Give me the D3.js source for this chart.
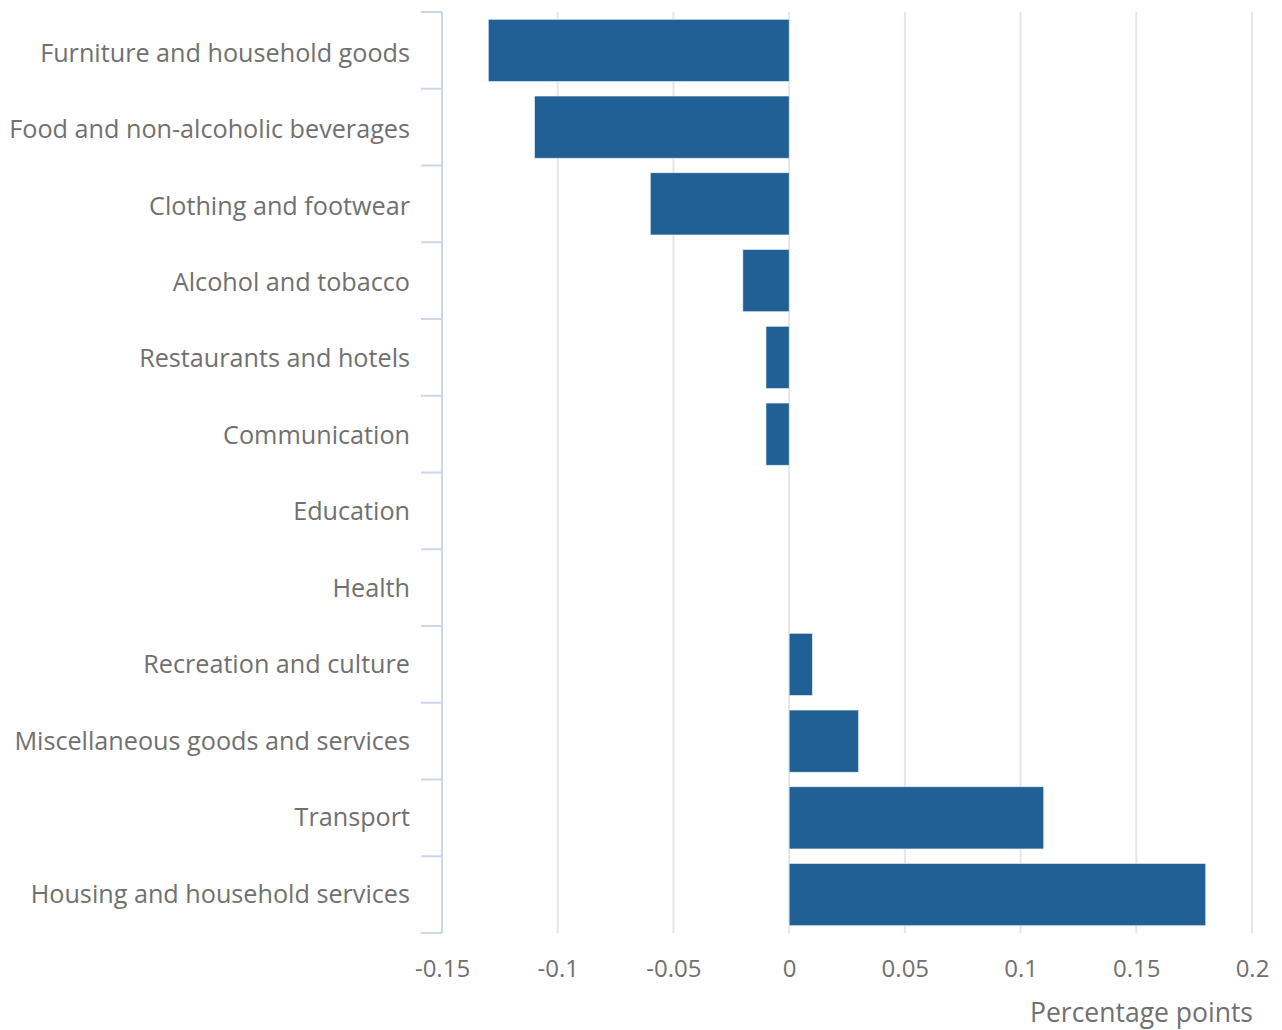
<!DOCTYPE html>
<html>
<head>
<meta charset="utf-8">
<script src="https://cdn.jsdelivr.net/npm/d3@7"></script>
<style>
  body { margin: 0; background: #fff; }
  text { font-family: "Open Sans", sans-serif; fill: #707070; }
</style>
</head>
<body>
<div id="chart"></div>
<script>
// Contribution to change, by category
const categories = [
  "Furniture and household goods",
  "Food and non-alcoholic beverages",
  "Clothing and footwear",
  "Alcohol and tobacco",
  "Restaurants and hotels",
  "Communication",
  "Education",
  "Health",
  "Recreation and culture",
  "Miscellaneous goods and services",
  "Transport",
  "Housing and household services"
];
const values = [-0.13, -0.11, -0.06, -0.02, -0.01, -0.01, 0, 0, 0.01, 0.03, 0.11, 0.18];
const xTicks = [-0.15, -0.1, -0.05, 0, 0.05, 0.1, 0.15, 0.2];

const W = 1282, H = 1030;
const margin = { top: 12, right: 30, bottom: 97, left: 442 };
const width = W - margin.left - margin.right;
const height = H - margin.top - margin.bottom;

const svg = d3.select("#chart")
    .append("svg")
    .attr("width", W)
    .attr("height", H)
    .append("g")
    .attr("transform", `translate(${margin.left},${margin.top})`);

const x = d3.scaleLinear()
    .domain([-0.15, 0.2])
    .range([0, width]);

const y = d3.scaleBand()
    .domain(categories)
    .range([0, height])
    .paddingInner(0.19)
    .paddingOuter(0.095);

// gridlines
svg.append("g")
    .selectAll("line")
    .data(xTicks.slice(1))
    .join("line")
    .attr("x1", d => x(d))
    .attr("x2", d => x(d))
    .attr("y1", 0)
    .attr("y2", height)
    .attr("stroke", "#e6e6e6")
    .attr("stroke-width", 2);

// bars
svg.selectAll("rect.bar")
    .data(values)
    .join("rect")
    .attr("class", "bar")
    .attr("x", d => x(Math.min(0, d)))
    .attr("y", (d, i) => y(categories[i]))
    .attr("width", d => Math.abs(x(d) - x(0)))
    .attr("height", y.bandwidth())
    .attr("fill", "#206095")
    .attr("stroke", "#e8eef4")
    .attr("stroke-width", 0.6);

// x axis labels
const xAxis = d3.axisBottom(x)
    .tickValues(xTicks)
    .tickSize(0)
    .tickPadding(27)
    .tickFormat(d => String(d));

const gx = svg.append("g")
    .attr("transform", `translate(0,${height})`)
    .call(xAxis);
gx.select(".domain").remove();
gx.selectAll("text")
    .style("font-size", "24px")
    .attr("fill", "#707070");

// y axis with boundary ticks
const boundaries = d3.range(categories.length + 1).map(i => i * height / categories.length);

const gy = svg.append("g");
gy.append("line")
    .attr("x1", 0).attr("x2", 0)
    .attr("y1", 0).attr("y2", height)
    .attr("stroke", "#ccd6eb")
    .attr("stroke-width", 2);
gy.selectAll("line.tick")
    .data(boundaries)
    .join("line")
    .attr("class", "tick")
    .attr("x1", -21).attr("x2", 0)
    .attr("y1", d => d).attr("y2", d => d)
    .attr("stroke", "#ccd6eb")
    .attr("stroke-width", 2);
gy.selectAll("text")
    .data(categories)
    .join("text")
    .attr("x", -32)
    .attr("y", (d, i) => y(d) + y.bandwidth() / 2 + 2.5 - i * 0.3)
    .attr("dy", "0.35em")
    .attr("text-anchor", "end")
    .style("font-size", "25.2px")
    .text(d => d);

// axis title
svg.append("text")
    .attr("x", width + 1)
    .attr("y", height + 89)
    .attr("text-anchor", "end")
    .style("font-size", "26.5px")
    .text("Percentage points");
</script>
</body>
</html>
